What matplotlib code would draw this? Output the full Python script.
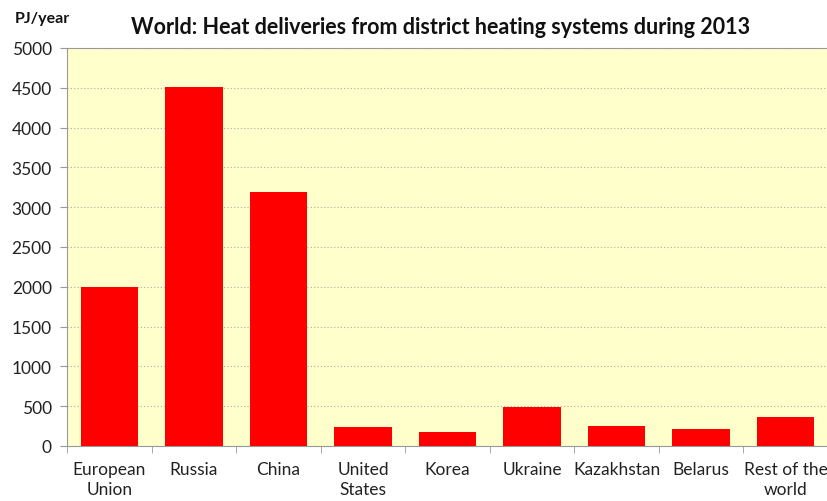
import numpy as np
import matplotlib
matplotlib.use('Agg')
import matplotlib.pyplot as plt

plt.rcParams['font.family'] = ['Lato', 'DejaVu Sans']

# heat deliveries, PJ/year
regions = ['European\nUnion', 'Russia', 'China', 'United\nStates', 'Korea',
           'Ukraine', 'Kazakhstan', 'Belarus', 'Rest of the\nworld']
heat = [1995, 4510, 3190, 243, 180, 490, 248, 217, 360]
yticks = [0, 500, 1000, 1500, 2000, 2500, 3000, 3500, 4000, 4500, 5000]

fig = plt.figure(figsize=(8.28, 5.02), dpi=100)
ax = fig.add_axes([0.081, 0.1096, 0.919, 0.7928])
ax.set_facecolor('#FFFFCC')

x = np.arange(len(regions))
ax.bar(x, heat, width=0.68, color='#FF0000', zorder=3)

ax.set_xlim(-0.5, len(regions) - 0.5)
ax.set_ylim(0, 5000)
ax.set_yticks(yticks)
ax.set_yticklabels([str(v) for v in yticks], fontsize=12.5, color='#222222')
ax.yaxis.grid(True, linestyle=(0, (1, 2)), color='#aaaaaa', linewidth=0.8, zorder=0)

ax.set_xticks(x)
ax.set_xticklabels(regions, fontsize=12.5, color='#222222', linespacing=1.25)
ax.tick_params(axis='x', length=0, pad=11)
ax.set_xticks(np.arange(-0.5, len(regions), 1), minor=True)
ax.tick_params(axis='x', which='minor', length=5, color='#999999')
ax.tick_params(axis='y', length=5, color='#999999', pad=6)

for s in ['left', 'bottom', 'top']:
    ax.spines[s].set_color('#999999')
ax.spines['right'].set_visible(False)

fig.text(0.532, 0.945, 'World: Heat deliveries from district heating systems during 2013',
         ha='center', va='center', fontsize=15.5, fontweight='bold', color='#111111')
fig.text(0.018, 0.962, 'PJ/year', ha='left', va='center', fontsize=11.5,
         fontweight='bold', color='#111111')

fig.savefig('out.png', dpi=100)
